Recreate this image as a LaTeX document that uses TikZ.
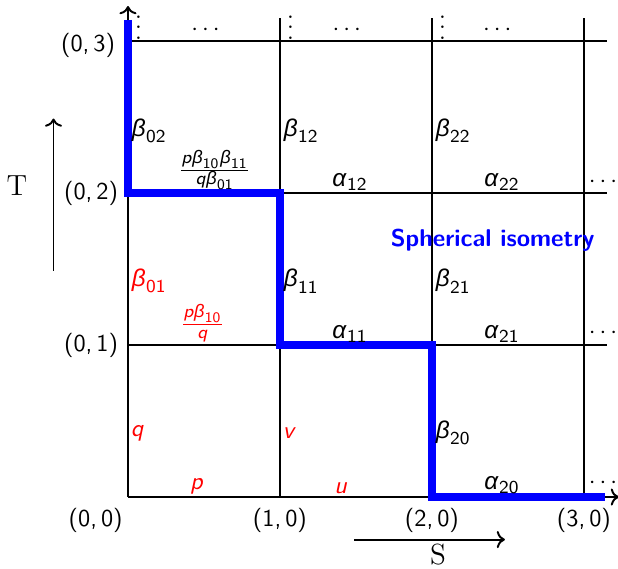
\documentclass[tikz,border=0pt]{standalone}
\usepackage{mathspec}
\setmathsfont(Digits,Latin,Symbols)[Numbers=Lining]{Latin Modern Sans}
\setmathsfont(Greek){Liberation Sans}
\DeclareMathSizes{10}{10}{7.5}{6}
\usetikzlibrary{arrows.meta,positioning,calc}
\newcommand{\colvdots}{\vbox{\baselineskip4.3pt\lineskiplimit0pt\hbox{.}\hbox{.}\hbox{.}}}

\begin{document}
\begin{tikzpicture}[x=2.2cm,y=2.2cm,
  gridline/.style={thick},
  isopath/.style={blue,line width=3pt},
  elab/.style={inner sep=1pt},
  redlab/.style={elab,red},
  ptlab/.style={inner sep=2pt,font=\sffamily},
  dirlab/.style={font=\rmfamily\large,inner sep=0pt}]
\useasboundingbox (-0.842,-0.467) rectangle (3.224,3.270);
% grid
\foreach \y in {1,2,3}{
  \draw[gridline] (0,\y) -- (3.15,\y);}
\foreach \x in {1,2,3}{
  \draw[gridline] (\x,0) -- (\x,3.15);}
\coordinate (O) at (0,0);
\coordinate (xend) at (3.23,0);
\coordinate (yend) at (0,3.23);
\draw[gridline,->] (O) -- (xend);
\draw[gridline,->] (O) -- (yend);
% path of the isometry
\draw[isopath] (0,3.14) -- (0,2) -- (1,2) -- (1,1) -- (2,1) -- (2,0) -- (3.14,0);
% dots
\foreach \x/\c in {0.07/0.51,1.07/1.44,2.07/2.43}{
  \node[inner sep=0pt] at (\x,3.09) {\colvdots};
  \node[elab] at (\c,3.07) {$\cdots$};}
\foreach \y in {0.09,1.08,2.07}{
  \node[elab] at (3.125,\y) {$\cdots$};}
% vertical edge labels
\node[elab,anchor=west] (b02) at (0,2.41) {$\beta_{02}$};
\node[elab,anchor=west] (b12) at (1,2.41) {$\beta_{12}$};
\node[elab,anchor=west] (b22) at (2,2.41) {$\beta_{22}$};
\node[redlab,anchor=west] (b01) at (0,1.42) {$\beta_{01}$};
\node[elab,anchor=west] (b11) at (1,1.42) {$\beta_{11}$};
\node[elab,anchor=west] (b21) at (2,1.42) {$\beta_{21}$};
\node[redlab,anchor=west] (q) at (0,0.42) {$q$};
\node[redlab,anchor=west] (v) at (1,0.42) {$v$};
\node[elab,anchor=west] (b20) at (2,0.42) {$\beta_{20}$};
% horizontal edge labels
\node[elab,anchor=south] (f2) at (0.57,2) {$\frac{p\beta_{10}\beta_{11}}{q\beta_{01}}$};
\node[elab,anchor=south] (a12) at (1.46,2) {$\alpha_{12}$};
\node[elab,anchor=south] (a22) at (2.46,2) {$\alpha_{22}$};
\node[redlab,anchor=south] (f1) at (0.49,1) {$\frac{p\beta_{10}}{q}$};
\node[elab,anchor=south] (a11) at (1.46,1) {$\alpha_{11}$};
\node[elab,anchor=south] (a21) at (2.46,1) {$\alpha_{21}$};
\node[redlab,anchor=south] (p) at (0.45,0) {$p$};
\node[redlab,anchor=south] (u) at (1.4,0) {$u$};
\node[elab,anchor=south] (a20) at (2.46,0) {$\alpha_{20}$};
% grid points
\node[ptlab,anchor=north east] (p00) at (0,-0.04) {(0,\,0)};
\node[ptlab,anchor=north] (p10) at (1,-0.04) {(1,\,0)};
\node[ptlab,anchor=north] (p20) at (2,-0.04) {(2,\,0)};
\node[ptlab,anchor=north] (p30) at (3,-0.04) {(3,\,0)};
\node[ptlab,anchor=east] (p01) at (-0.03,1) {(0,\,1)};
\node[ptlab,anchor=east] (p02) at (-0.03,2) {(0,\,2)};
\node[ptlab,anchor=east] (p03) at (-0.05,2.97) {(0,\,3)};
% directions
\coordinate (Tfrom) at (-0.49,1.49);
\coordinate (Tto) at (-0.49,2.49);
\draw[thick,->] (Tfrom) -- (Tto);
\node[dirlab] (T) at (-0.73,2.05) {T};
\coordinate (Sfrom) at (1.49,-0.28);
\coordinate (Sto) at (2.48,-0.28);
\draw[thick,->] (Sfrom) -- (Sto);
\node[dirlab] (S) at (2.04,-0.38) {S};
\node[blue,font=\sffamily\bfseries] (iso) at (2.40,1.69) {Spherical isometry};
\end{tikzpicture}
\end{document}
